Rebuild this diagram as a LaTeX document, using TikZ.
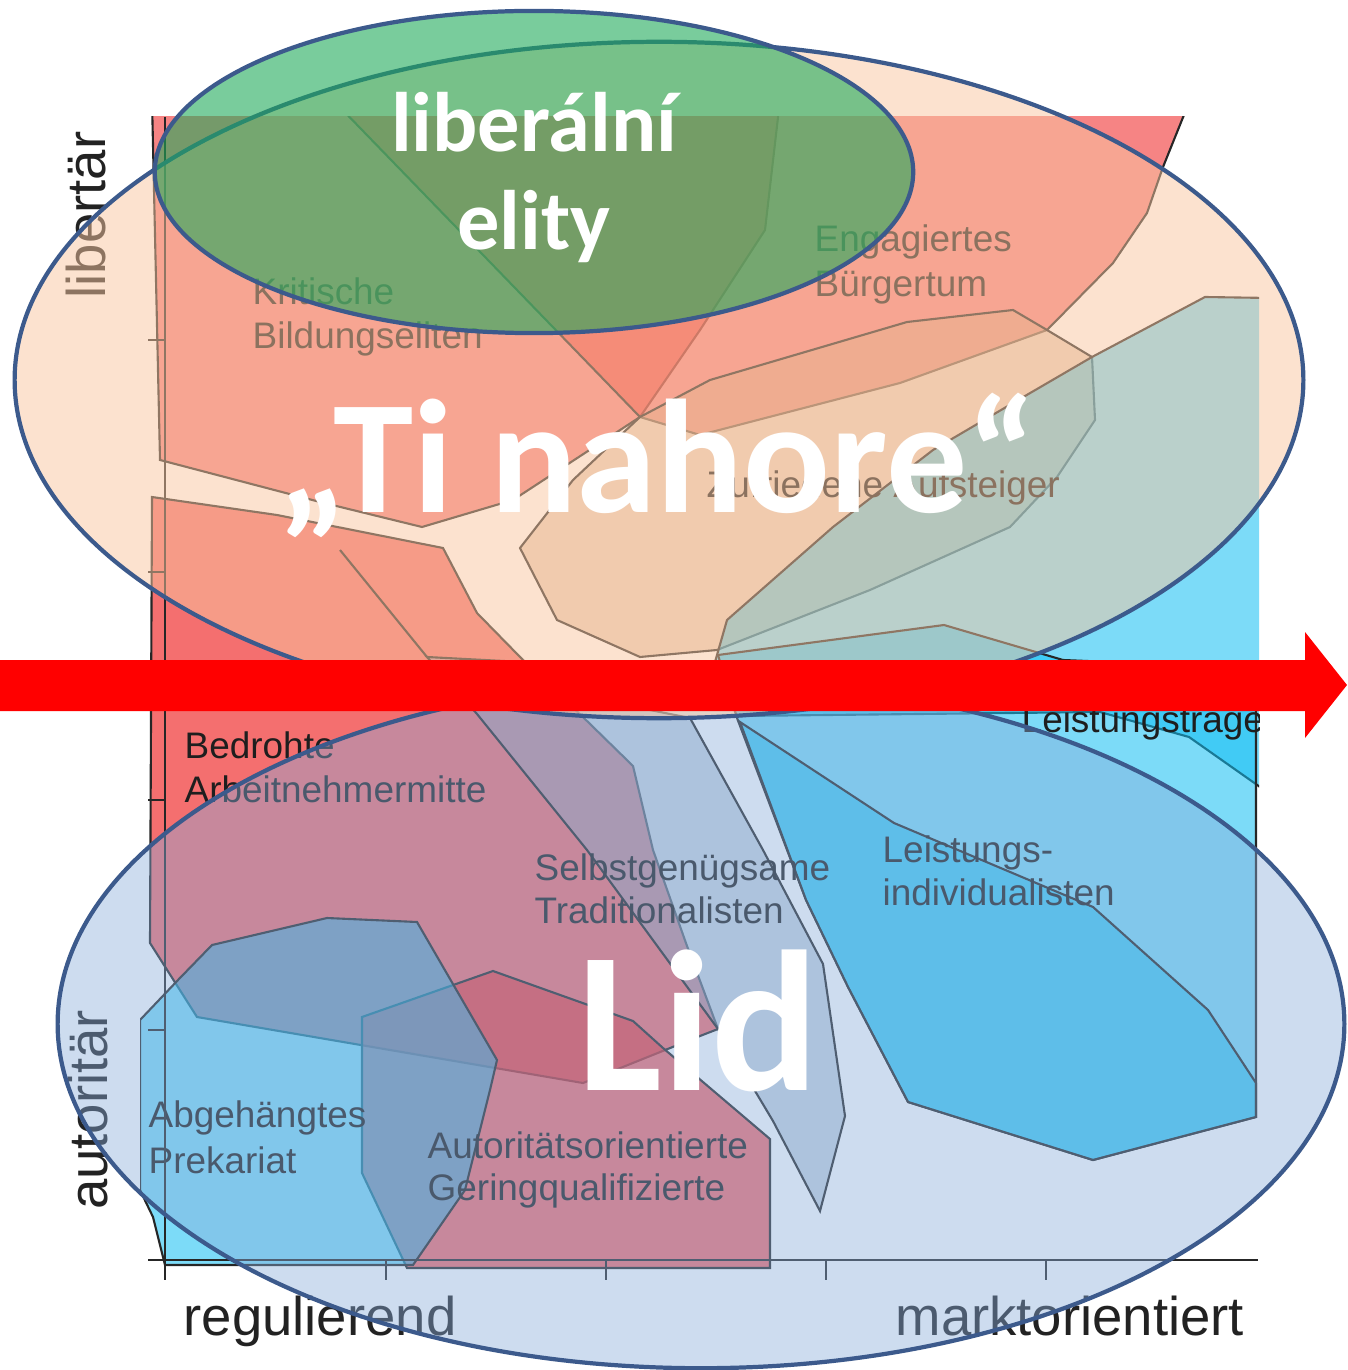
\documentclass[tikz,border=0pt]{standalone}
\usepackage{fontspec}
\setmainfont{Liberation Sans}
\newfontfamily\calibri{Carlito}
\definecolor{plotred}{HTML}{F03232}
\definecolor{plottan}{HTML}{D4A47E}
\definecolor{plotcyan}{HTML}{10BEF2}
\definecolor{plotgray}{HTML}{90A8C0}
\definecolor{labelgray}{HTML}{1E1E1E}
\definecolor{axisgray}{HTML}{222222}
\definecolor{topfill}{HTML}{F9C6A0}
\definecolor{elitegreen}{HTML}{1FAA5A}
\definecolor{peoplefill}{HTML}{88ACDA}
\definecolor{rimblue}{HTML}{3C5A8C}
\definecolor{arrowred}{HTML}{FF0000}

\begin{document}
\begin{tikzpicture}[x=0.01cm, y=-0.01cm,
    zone/.style={draw=black!85, line width=0.6pt, fill opacity=0.6},
    redzone/.style={zone, fill=plotred},
    lowred/.style={zone, fill=plotred, fill opacity=0.7},
    tanzone/.style={zone, fill=plottan, fill opacity=0.5},
    cyanzone/.style={zone, fill=plotcyan, fill opacity=0.55},
    grayzone/.style={zone, fill=plotgray, fill opacity=0.5},
    lbl/.style={font=\fontsize{10.5}{12}\selectfont, text=labelgray, inner sep=0pt, anchor=base west},
    axislbl/.style={font=\fontsize{15.5}{18}\selectfont, text=axisgray, inner sep=0pt},
    ring/.style={draw=rimblue, line width=1.2pt},
    bigword/.style={text=white, inner sep=0pt, anchor=base}]

		\useasboundingbox (0,0) rectangle (1347,1370);

		% Draw the regions of the map
		\begin{scope}
			\clip (140,117) rectangle (1259,1275);
			% upper half
			\filldraw[redzone] (152,100) -- (780,100) -- (765,230) -- (700,330) -- (640,417) -- (513,500) -- (422,527) -- (320,502) -- (160,460) -- cycle;
			\filldraw[redzone] (333,100) -- (1190,100) -- (1163,167) -- (1147,213) -- (1113,263) -- (1047,330) -- (900,383) -- (700,435) -- (640,417) -- cycle;
			\filldraw[tanzone] (520,548) -- (573,480) -- (640,417) -- (710,380) -- (907,322) -- (1013,310) -- (1047,330) -- (1092,357) -- (1095,420) -- (1057,477) -- (1010,527) -- (870,590) -- (717,650) -- (640,657) -- (557,620) -- cycle;
			\filldraw[cyanzone] (715,662) -- (727,620) -- (833,527) -- (933,450) -- (1013,403) -- (1092,357) -- (1205,297) -- (1270,298) -- (1270,794) -- (1189,737) -- (1100,712) -- (737,716) -- cycle;
			% lower half
			\filldraw[lowred] (152,497) -- (277,515) -- (443,548) -- (477,613) -- (523,660) -- (587,721) -- (633,766) -- (653,850) -- (687,946) -- (718,1029) -- (700,1036) -- (583,1083) -- (197,1017) -- (150,943) -- cycle;
			\draw[black!85, line width=0.6pt] (340,550) -- (427,657);
			\filldraw[grayzone] (427,657) -- (523,662) -- (600,700) -- (690,718) -- (763,850) -- (823,964) -- (845,1116) -- (820,1211) -- (773,1121) -- (718,1029) -- (587,850) -- (477,714) -- cycle;
			\filldraw[cyanzone] (718,655) -- (944,625) -- (1063,660) -- (1256,668) -- (1256,1117) -- (1093,1160) -- (908,1102) -- (848,987) -- (806,900) -- (737,718) -- cycle;
			\filldraw[cyanzone] (740,722) -- (894,823) -- (1093,907) -- (1208,1010) -- (1256,1083) -- (1256,1117) -- (1093,1160) -- (908,1102) -- (848,987) -- (806,900) -- cycle;
			\filldraw[lowred] (362,1017) -- (493,971) -- (633,1021) -- (663,1048) -- (770,1139) -- (770,1268) -- (407,1268) -- (362,1173) -- cycle;
			\filldraw[cyanzone] (140,1020) -- (178,980) -- (212,945) -- (327,918) -- (417,922) -- (497,1060) -- (490,1090) -- (465,1190) -- (413,1265) -- (165,1265) -- (153,1217) -- (140,1190) -- cycle;

			% Names of the milieus
			\node[lbl] (krit1) at (252,305) {Kritische};
			\node[lbl] (krit2) at (252,349) {Bildungseliten};
			\node[lbl] (enga1) at (814,252) {Engagiertes};
			\node[lbl] (enga2) at (814,297) {Bürgertum};
			\node[lbl] (zufr) at (706,498) {Zufriedene Aufsteiger};
			\node[lbl] (ltrag) at (1021,732) {Leistungsträge};
			\node[lbl] (bedr1) at (184,758) {Bedrohte};
			\node[lbl] (bedr2) at (184,802) {Arbeitnehmermitte};
			\node[lbl] (selb1) at (534,880) {Selbstgenügsame};
			\node[lbl] (selb2) at (534,923) {Traditionalisten};
			\node[lbl] (lind1) at (882,862) {Leistungs-};
			\node[lbl] (lind2) at (882,905) {individualisten};
			\node[lbl] (abge1) at (148,1127) {Abgehängtes};
			\node[lbl] (abge2) at (148,1173) {Prekariat};
			\node[lbl] (auto1) at (427,1158) {Autoritätsorientierte};
			\node[lbl] (auto2) at (427,1200) {Geringqualifizierte};
		\end{scope}

		% Draw the axes
		\draw[black!85, line width=0.6pt] (165,117) -- (165,1280);
		\draw[black!85, line width=0.6pt] (148,1260) -- (1258,1260);
		\foreach \tx in {386,606,826,1046}
			\draw[black!85, line width=0.6pt] (\tx,1260) -- (\tx,1280);
		\foreach \ty in {340,572,800,1030}
			\draw[black!85, line width=0.6pt] (148,\ty) -- (165,\ty);
		\node[axislbl, rotate=90] (lib) at (86,215) {libertär};
		\node[axislbl, rotate=90] (aut) at (88,1110) {autoritär};
		\node[axislbl, anchor=base west] (reg) at (183,1335) {regulierend};
		\node[axislbl, anchor=base west] (mark) at (895,1335) {marktorientiert};

		% Draw the groups
		\filldraw[ring, fill=peoplefill, fill opacity=0.42] (701,1024) ellipse [x radius=6.43cm, y radius=3.44cm];
		\filldraw[ring, fill=topfill, fill opacity=0.5] (659,380) ellipse [x radius=6.44cm, y radius=3.38cm];
		\filldraw[ring, fill=elitegreen, fill opacity=0.6] (534,172) ellipse [x radius=3.79cm, y radius=1.61cm];

		% Draw the arrow
		\fill[arrowred] (0,660) -- (1305,660) -- (1305,632) -- (1347,685) -- (1305,738) -- (1305,711) -- (0,711) -- cycle;

		% Names of the groups
		\node[bigword, font=\calibri\bfseries\fontsize{24}{24}\selectfont] (lib1) at (534,152) {liberální};
		\node[bigword, font=\calibri\bfseries\fontsize{24}{24}\selectfont] (lib2) at (534,250) {elity};
		\node[bigword, font=\calibri\bfseries\fontsize{46}{46}\selectfont] (top) at (657,512) {„Ti nahore“};
		\node[bigword, font=\calibri\bfseries\fontsize{57}{57}\selectfont] (lid) at (698,1090) {Lid};

	\end{tikzpicture}
\end{document}
